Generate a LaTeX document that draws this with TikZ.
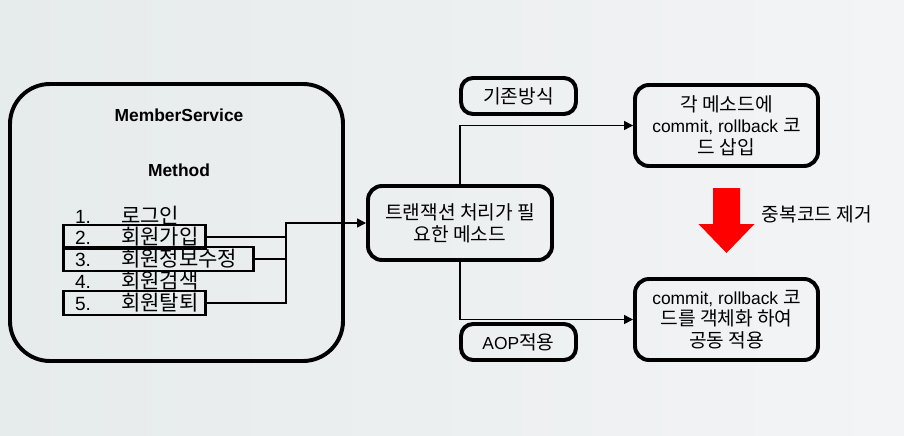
\documentclass[tikz,border=0pt]{standalone}
\usepackage{fontspec}
\setmainfont{Liberation Sans}
\newfontfamily\kr[Scale=1.1]{Noto Sans CJK KR}
\usetikzlibrary{arrows.meta, positioning}
\definecolor{bgLeft}{HTML}{E6EBEB}
\definecolor{bgRight}{HTML}{F3F4F6}
\definecolor{alarmRed}{HTML}{FF0000}
\newcommand{\bodysize}{\fontsize{12.4pt}{15.5pt}\selectfont}
\newcommand{\listsize}{\fontsize{13.6pt}{16pt}\selectfont}

\begin{document}
\begin{tikzpicture}[
    card/.style={rectangle, draw=black, line width=2.8pt, rounded corners=#1,
                 align=center, font=\bodysize, inner sep=0pt},
    card/.default=0.35cm,
    item/.style={anchor=west, line width=2pt, minimum height=0.6cm, inner xsep=0.29cm,
                 inner ysep=0pt, text width=#1, align=left, font=\listsize},
    item/.default=3cm,
    wire/.style={line width=1pt},
    link/.style={wire, -{Triangle[length=0.22cm, width=0.22cm]}}
  ]
    \fill[left color=bgLeft, right color=bgRight] (0,0) rectangle (22.6,10.875);
    \useasboundingbox (0,0) rectangle (22.6,10.875);

    % left: the service and its methods
    \node[card=1cm, minimum width=8.325cm, minimum height=6.925cm] (service) at (4.4125, 5.3125) {};
    \node[font=\bodysize\bfseries] (svcname) at (4.475, 8.0) {MemberService};
    \node[font=\bodysize\bfseries] (methodlbl) at (4.475, 6.625) {Method};
    \node[item] (m1) at (1.55, 5.5) {\makebox[1.15cm][l]{1.}{\kr 로그인}};
    \node[item=2.97cm, draw] (m2) at (1.55, 4.95) {\makebox[1.15cm][l]{2.}{\kr 회원가입}};
    \node[item=4.17cm, draw] (m3) at (1.55, 4.4) {\makebox[1.15cm][l]{3.}{\kr 회원정보수정}};
    \node[item] (m4) at (1.55, 3.85) {\makebox[1.15cm][l]{4.}{\kr 회원검색}};
    \node[item=2.97cm, draw] (m5) at (1.55, 3.3) {\makebox[1.15cm][l]{5.}{\kr 회원탈퇴}};

    % middle and right
    \node[card, minimum width=4.6cm, minimum height=1.85cm, font=\kr\bodysize] (txmethod) at (11.5, 5.3) {
      트랜잭션 처리가 필\\요한 메소드
    };
    \node[card=0.3cm, minimum width=2.875cm, minimum height=0.9cm, font=\kr\bodysize] (legacy) at (12.9625, 8.475) {기존방식};
    \node[card=0.3cm, minimum width=2.875cm, minimum height=0.9cm] (aop) at (12.9625, 2.325) {AOP{\kr 적용}};
    \node[card, minimum width=4.575cm, minimum height=2.025cm] (insert) at (18.1625, 7.7375) {
      {\kr 각 메소드에}\\
      commit, rollback {\kr 코}\\
      {\kr 드 삽입}
    };
    \node[card, minimum width=4.575cm, minimum height=2.025cm] (shared) at (18.1625, 2.8875) {
      commit, rollback {\kr 코}\\
      {\kr 드를 객체화 하여}\\
      {\kr 공동 적용}
    };

    % connectors
    \coordinate (join) at (7.15, 5.3);
    \draw[wire] (m2.east) -- (m2.east -| join);
    \draw[wire] (m3.east) -- (m3.east -| join);
    \draw[link] (m5.east) -| (join) -- (txmethod.west);
    \draw[link] (txmethod.north) |- (insert.west);
    \draw[link] (txmethod.south) |- (shared.west);

    % red arrow
    \fill[alarmRed] (17.825,6.175) -- (18.5,6.175) -- (18.5,5.275) -- (18.8625,5.275)
      -- (18.1625,4.55) -- (17.4625,5.275) -- (17.825,5.275) -- cycle;
    \node[font=\kr\bodysize, anchor=west] (dedup) at (18.925, 5.525) {중복코드 제거};
  \end{tikzpicture}
\end{document}
